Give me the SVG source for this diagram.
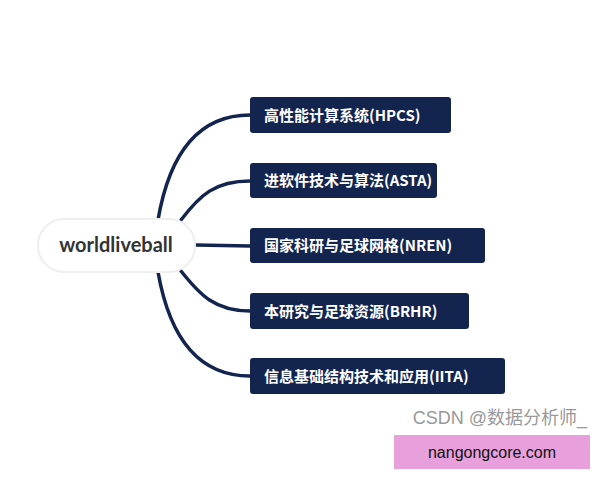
<svg xmlns="http://www.w3.org/2000/svg" width="600" height="480" viewBox="0 0 600 480">
<style>
.b{fill:#13254f}
.t{fill:#fff;font-family:"Noto Sans CJK SC","Noto Sans",sans-serif;font-size:15px;font-weight:bold}
.c{fill:none;stroke:#13254f;stroke-width:3.5;stroke-linecap:round}
</style>
<rect width="600" height="480" fill="#fff"/>
<g id="connectors">
<path class="c" d="M158,220 C170,150 200,115 250,115"/>
<path class="c" d="M181,220 C200,195 215,181 250,181"/>
<path class="c" d="M196,245 L250,246" stroke-width="5"/>
<path class="c" d="M181,271 C200,295 215,311 250,311"/>
<path class="c" d="M158,272 C170,340 200,376 250,376"/>
</g>
<g id="root">
<rect x="38" y="219" width="157" height="53" rx="26" fill="#fff" stroke="#eee" stroke-width="2"/>
<text x="116" y="252" text-anchor="middle" font-family="Lato,sans-serif" font-size="20" font-weight="bold" fill="#333">worldliveball</text>
</g>
<g id="n1"><rect class="b" x="250" y="97" width="201" height="36" rx="3"/><text class="t" x="264" y="121">高性能计算系统(HPCS)</text></g>
<g id="n2"><rect class="b" x="250" y="163" width="187" height="35" rx="3"/><text class="t" x="264" y="186">进软件技术与算法(ASTA)</text></g>
<g id="n3"><rect class="b" x="250" y="228" width="235" height="35" rx="3"/><text class="t" x="264" y="251">国家科研与足球网格(NREN)</text></g>
<g id="n4"><rect class="b" x="250" y="293" width="219" height="36" rx="3"/><text class="t" x="264" y="317">本研究与足球资源(BRHR)</text></g>
<g id="n5"><rect class="b" x="250" y="358" width="255" height="36" rx="3"/><text class="t" x="264" y="382">信息基础结构技术和应用(IITA)</text></g>
<text x="587" y="424" text-anchor="end" font-family="'Liberation Sans','Noto Sans CJK SC',sans-serif" font-size="18" fill="#999">CSDN @数据分析师_</text>
<rect x="394" y="435" width="196" height="34" fill="#e8a0dc"/>
<text x="492" y="458" text-anchor="middle" font-family="'Liberation Sans',sans-serif" font-size="16" fill="#111">nangongcore.com</text>
</svg>
